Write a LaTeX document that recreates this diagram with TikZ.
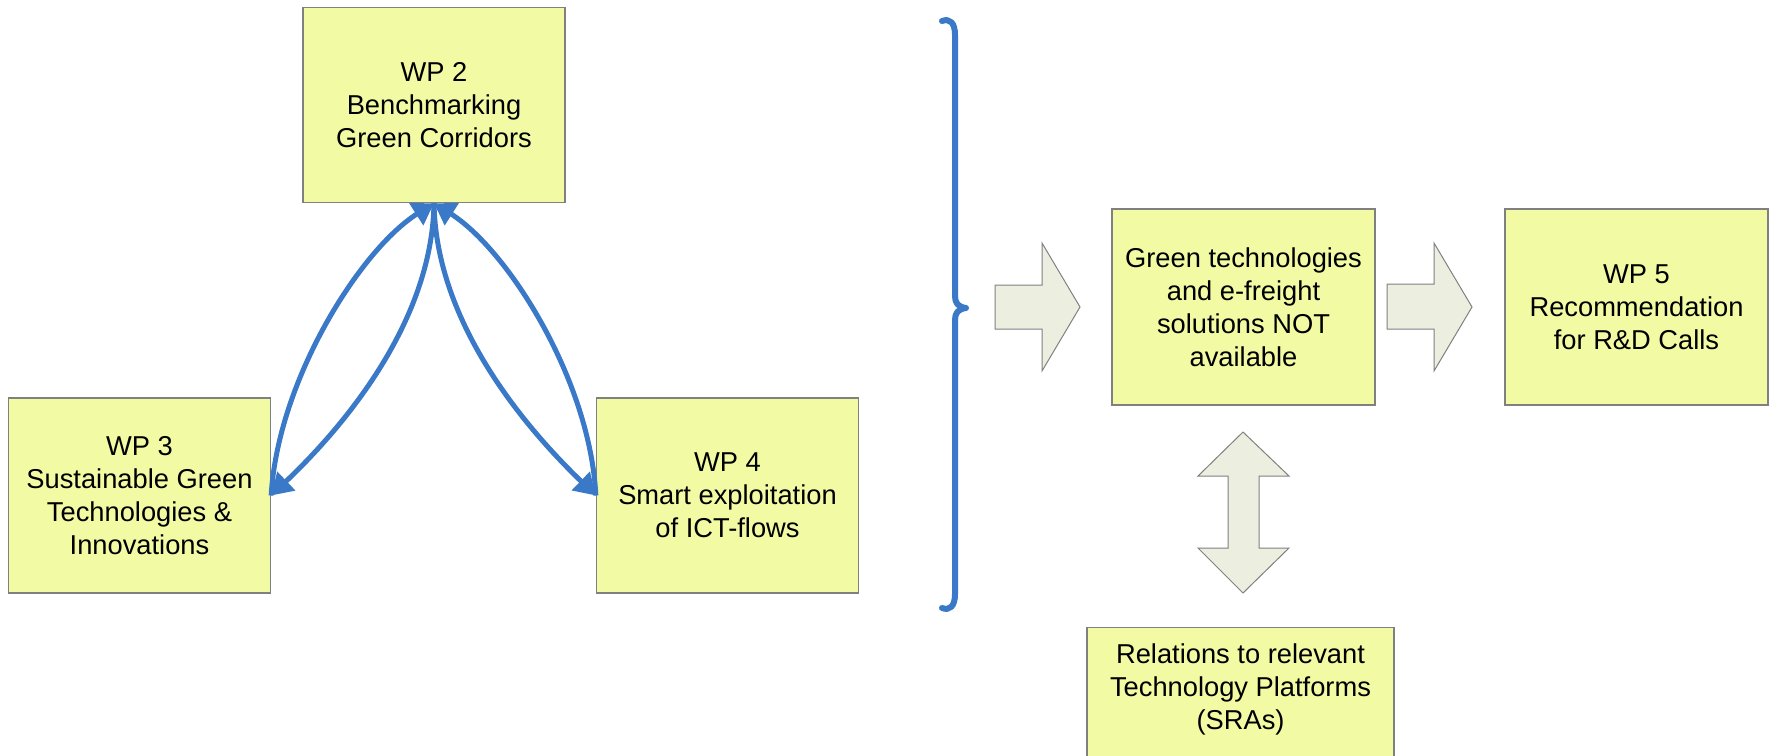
\documentclass[tikz,border=0pt]{standalone}
\usepackage{fontspec}
\setmainfont{Liberation Sans}
\usetikzlibrary{arrows.meta}
\definecolor{boxfill}{RGB}{242,251,164}
\definecolor{boxline}{RGB}{128,128,128}
\definecolor{arrfill}{RGB}{236,239,224}
\definecolor{linkblue}{RGB}{58,120,200}
\tikzset{
  wpbox/.style={draw=boxline, line width=1.3pt, fill=boxfill, minimum width=262pt, minimum height=195pt,
    inner sep=0pt, align=center, font=\fontsize{27.3}{33}\selectfont},
  txt/.style={inner sep=0pt, align=center, font=\fontsize{27.3}{33}\selectfont},
  link/.style={draw=linkblue, line width=5pt, -{Triangle[length=21pt,width=25pt]}},
  blockarrow/.style={draw=boxline, line width=1pt, fill=arrfill, line join=miter},
  bracestyle/.style={draw=linkblue, line width=6pt, line cap=round, line join=round}
}
\begin{document}
\begin{tikzpicture}[x=1pt,y=-1pt]
\useasboundingbox (0,0) rectangle (1769,755);
% boxes
\node[wpbox] (wp2) at (434,105) {WP 2\\Benchmarking\\Green Corridors};
\node[wpbox] (wp3) at (139.5,495.5) {WP 3\\Sustainable Green\\Technologies \&\\Innovations};
\node[wpbox] (wp4) at (727.5,495.5) {WP 4\\Smart exploitation\\of ICT-flows};
\node[wpbox, minimum width=263pt, minimum height=196pt] (green) at (1243.5,307) {Green technologies\\and e-freight\\solutions NOT\\available};
\node[wpbox, minimum width=263pt, minimum height=196pt] (wp5) at (1636.5,307) {WP 5\\Recommendation\\for R\&D Calls};
\node[wpbox, minimum width=307pt, minimum height=200pt, anchor=north] (rel) at (1240.5,627) {};
\node[txt] (reltext) at (1240.5,689) {Relations to relevant\\Technology Platforms\\(SRAs)};
% curved links
\draw[link] (wp3.east) .. controls (278,380) and (360,250) .. (wp2.south);
\draw[link] (wp2.south) .. controls (432,325) and (340,430) .. (wp3.east);
\draw[link] (wp4.west) .. controls (590,380) and (508,250) .. (wp2.south);
\draw[link] (wp2.south) .. controls (436,325) and (528,430) .. (wp4.west);
% brace
\coordinate (bt) at (942,21);
\coordinate (bb) at (942,608);
\draw[bracestyle] (bt) .. controls (950,18) and (955,23) .. (955,35) -- (955,296)
  .. controls (955,303) and (958,307) .. (966,308)
  .. controls (958,309) and (955,313) .. (955,320) -- (955,594)
  .. controls (955,606) and (950,611) .. (bb);
% block arrows
\draw[blockarrow] (995,285) -- (1042,285) -- (1042,243) -- (1080,307) -- (1042,371) -- (1042,329) -- (995,329) -- cycle;
\draw[blockarrow] (1387,284) -- (1434,284) -- (1434,243) -- (1472,307) -- (1434,371) -- (1434,329) -- (1387,329) -- cycle;
\draw[blockarrow] (1243,432) -- (1289,476) -- (1259,476) -- (1259,548) -- (1289,548) -- (1243,593)
  -- (1198,548) -- (1228,548) -- (1228,476) -- (1198,476) -- cycle;
\end{tikzpicture}
\end{document}
